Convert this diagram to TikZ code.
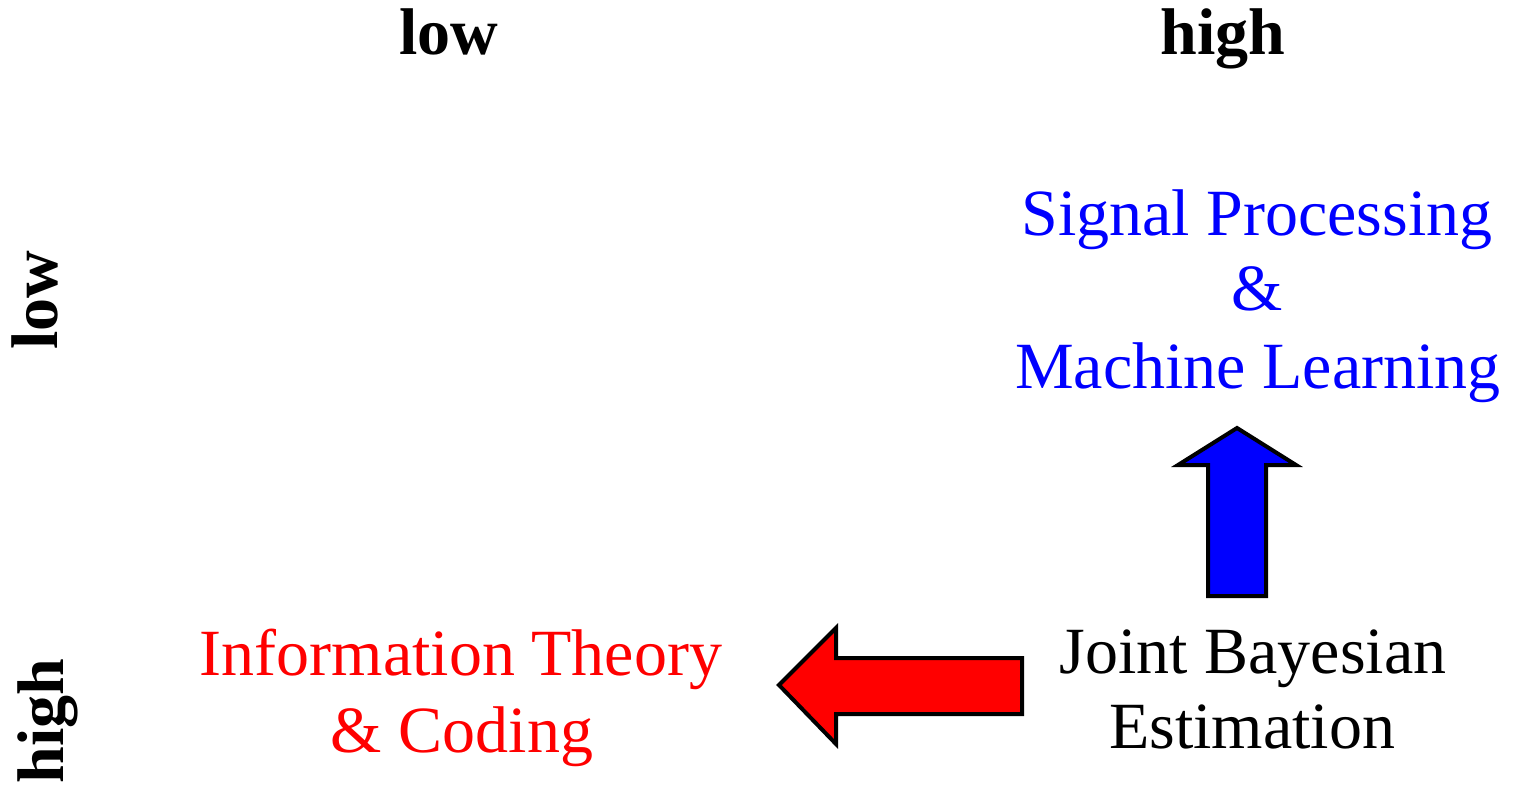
\documentclass[tikz,border=0pt]{standalone}
\usepackage{fontspec}
\setmainfont{Liberation Serif}
\begin{document}
\begin{tikzpicture}[x=0.5pt,y=-0.5pt,
  lbl/.style={inner sep=0pt,anchor=base,font=\fontsize{33}{38}\selectfont},
  hdr/.style={lbl,font=\fontsize{33}{38}\selectfont\bfseries},
  blockarrow/.style={draw=black,line width=2pt,line join=miter}]
\useasboundingbox (0,0) rectangle (1514,789);
% headers
\node[hdr] (colLow) at (449,54) {low};
\node[hdr] (colHigh) at (1223,54) {high};
\node[hdr,rotate=90] (rowLow) at (57,300) {low};
\node[hdr,rotate=90] (rowHigh) at (63,721) {high};
% texts
\node[lbl,text=blue] (sp1) at (1257,235) {Signal Processing};
\node[lbl,text=blue] (sp2) at (1257,310) {\&};
\node[lbl,text=blue] (sp3) at (1258,388) {Machine Learning};
\node[lbl,text=red] (it1) at (461,675) {Information Theory};
\node[lbl,text=red] (it2) at (462,752) {\& Coding};
\node[lbl] (jb1) at (1253,673) {Joint Bayesian};
\node[lbl] (jb2) at (1252,748) {Estimation};
% blue block arrow
\draw[blockarrow,fill=blue] (1237,428) -- (1296,465) -- (1266,465) -- (1266,596)
  -- (1208,596) -- (1208,465) -- (1178,465) -- cycle;
% red block arrow
\draw[blockarrow,fill=red] (779,685) -- (836,628) -- (836,658) -- (1022,658)
  -- (1022,714) -- (836,714) -- (836,744) -- cycle;
\end{tikzpicture}
\end{document}
